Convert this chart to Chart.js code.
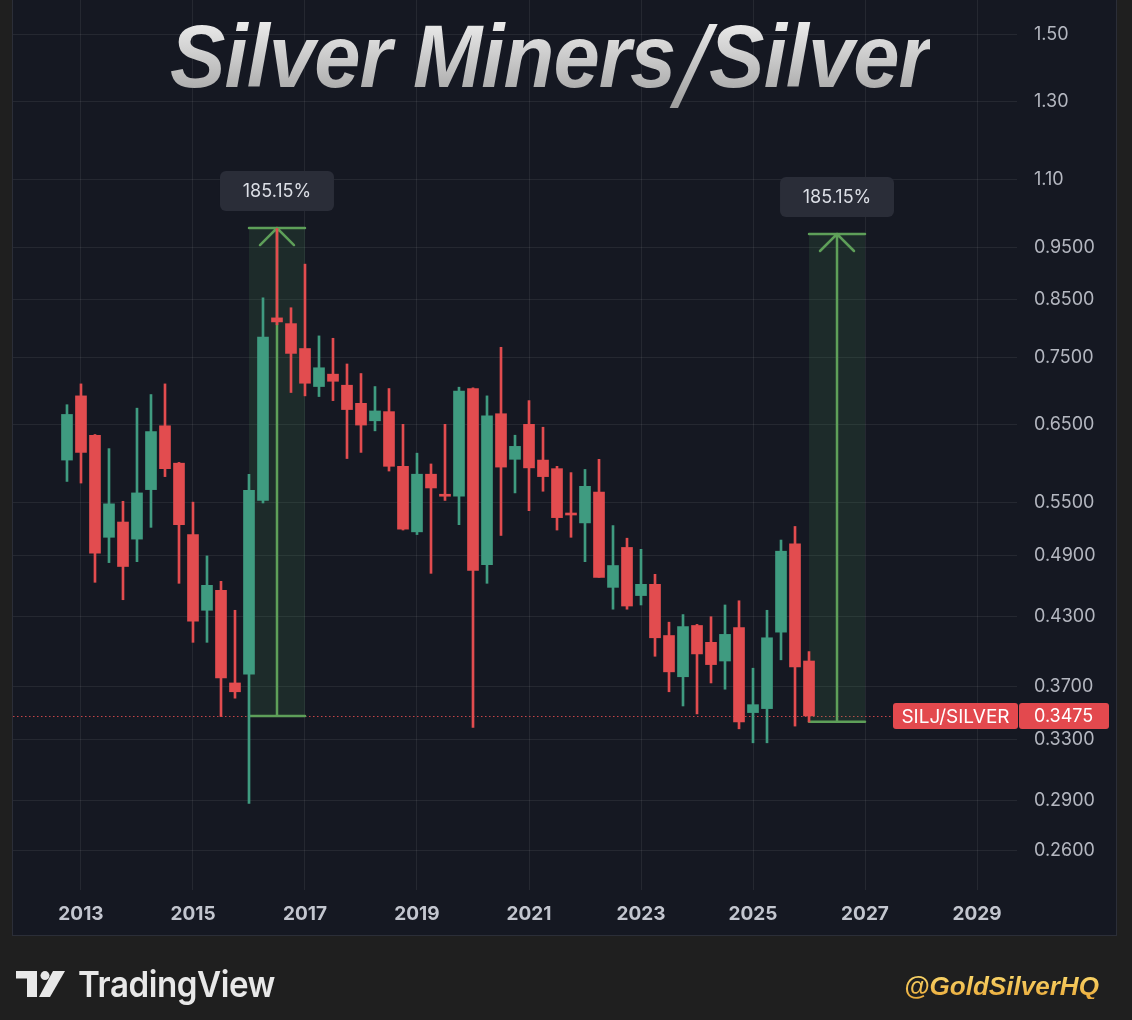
<!DOCTYPE html>
<html lang="en">
<head>
<meta charset="UTF-8">
<title>Silver Miners/Silver</title>
<script src="https://cdn.jsdelivr.net/npm/chart.js@4.4.1/dist/chart.umd.min.js"></script>
<style>
    html, body { margin: 0; padding: 0; background: #1f1f1f; }
    body { width: 1132px; height: 1020px; position: relative; overflow: hidden; font-family: Inter, Roboto, sans-serif; }
    #panel {
        position: absolute; left: 12px; top: -1px; width: 1105px; height: 937px;
        box-sizing: border-box; border: 1px solid #2b2e38; background: #151822;
    }
    #chart-wrap { position: absolute; left: 0; top: 0; width: 1103px; height: 935px; }
    #title {
        position: absolute; left: 170px; top: 12px; white-space: nowrap;
        font-family: "Liberation Sans Narrow", "Liberation Sans", Arial, sans-serif;
        font-weight: 700; font-style: italic; font-size: 89px; line-height: 89px;
        letter-spacing: -1px;
        background: linear-gradient(180deg, #f4f4f4 0%, #9c9c9c 100%);
        -webkit-background-clip: text; background-clip: text; color: transparent;
        transform-origin: 0 0;
    }
    #title .slash {
        font-family: "DejaVu Sans", sans-serif; font-weight: 200; font-style: italic;
        font-size: 104px; vertical-align: -12px; margin: 0 1px;
    }
    #tv-logo { position: absolute; left: 16px; top: 971px; }
    #tv-text {
        position: absolute; left: 78px; top: 966px; white-space: nowrap;
        font-family: Inter, Roboto, sans-serif; font-weight: 600; font-size: 36px; line-height: 36px;
        color: #e8e8e8; letter-spacing: -0.5px; transform-origin: 0 0;
    }
    #handle {
        position: absolute; left: 904px; top: 974px; white-space: nowrap;
        font-family: "Liberation Sans", Arial, sans-serif; font-weight: 700; font-style: italic;
        font-size: 25px; line-height: 25px;
        background: linear-gradient(180deg, #fbd96c 0%, #e9a93a 100%);
        -webkit-background-clip: text; background-clip: text; color: transparent;
        transform-origin: 0 0;
    }
</style>
</head>
<body>
    <div id="panel">
        <div id="chart-wrap"><canvas id="chart" width="1103" height="935"></canvas></div>
    </div>
    <div id="title">Silver Miners<span class="slash">/</span>Silver</div>

    <svg id="tv-logo" width="50" height="26" viewBox="0 0 50 26">
        <polygon points="0,0 21,0 21,26 11,26 11,7.5 0,7.5" fill="#e8e8e8"/>
        <circle cx="29" cy="4.6" r="4.5" fill="#e8e8e8"/>
        <polygon points="37,0 49,0 34,26 23,26" fill="#e8e8e8"/>
    </svg>
    <div id="tv-text">TradingView</div>
    <div id="handle">@GoldSilverHQ</div>

    <script>
        // quarterly candles, SILJ/SILVER
        const quarters = [
            '2012 Q4',
            '2013 Q1', '2013 Q2', '2013 Q3', '2013 Q4',
            '2014 Q1', '2014 Q2', '2014 Q3', '2014 Q4',
            '2015 Q1', '2015 Q2', '2015 Q3', '2015 Q4',
            '2016 Q1', '2016 Q2', '2016 Q3', '2016 Q4',
            '2017 Q1', '2017 Q2', '2017 Q3', '2017 Q4',
            '2018 Q1', '2018 Q2', '2018 Q3', '2018 Q4',
            '2019 Q1', '2019 Q2', '2019 Q3', '2019 Q4',
            '2020 Q1', '2020 Q2', '2020 Q3', '2020 Q4',
            '2021 Q1', '2021 Q2', '2021 Q3', '2021 Q4',
            '2022 Q1', '2022 Q2', '2022 Q3', '2022 Q4',
            '2023 Q1', '2023 Q2', '2023 Q3', '2023 Q4',
            '2024 Q1', '2024 Q2', '2024 Q3', '2024 Q4',
            '2025 Q1', '2025 Q2', '2025 Q3', '2025 Q4',
            '2026 Q1'
        ];
        const opens = [
            0.602,
            0.691, 0.635, 0.510, 0.527,
            0.508, 0.565, 0.648, 0.598,
            0.513, 0.436, 0.455, 0.373,
            0.380, 0.552, 0.817, 0.807,
            0.765, 0.705, 0.724, 0.707,
            0.680, 0.655, 0.668, 0.594,
            0.516, 0.584, 0.559, 0.557,
            0.702, 0.481, 0.665, 0.603,
            0.650, 0.602, 0.591, 0.537,
            0.526, 0.562, 0.458, 0.499,
            0.450, 0.461, 0.413, 0.378,
            0.422, 0.407, 0.391, 0.420,
            0.350, 0.353, 0.416, 0.503,
            0.391
        ];
        const highs = [
            0.678,
            0.709, 0.636, 0.617, 0.551,
            0.673, 0.693, 0.709, 0.599,
            0.550, 0.490, 0.464, 0.436,
            0.584, 0.853, 0.990, 0.835,
            0.917, 0.786, 0.782, 0.740,
            0.725, 0.705, 0.702, 0.650,
            0.611, 0.597, 0.650, 0.704,
            0.703, 0.691, 0.767, 0.635,
            0.684, 0.646, 0.594, 0.586,
            0.590, 0.603, 0.523, 0.509,
            0.497, 0.471, 0.425, 0.432,
            0.423, 0.430, 0.441, 0.445,
            0.385, 0.436, 0.507, 0.522,
            0.399
        ];
        const lows = [
            0.575,
            0.573, 0.463, 0.483, 0.446,
            0.484, 0.521, 0.581, 0.462,
            0.407, 0.407, 0.347, 0.361,
            0.288, 0.549, 0.805, 0.696,
            0.691, 0.690, 0.684, 0.604,
            0.612, 0.641, 0.588, 0.518,
            0.513, 0.472, 0.552, 0.524,
            0.339, 0.462, 0.512, 0.561,
            0.540, 0.563, 0.518, 0.510,
            0.484, 0.468, 0.437, 0.437,
            0.441, 0.395, 0.366, 0.355,
            0.349, 0.373, 0.368, 0.338,
            0.328, 0.328, 0.392, 0.340,
            0.343
        ];
        const closes = [
            0.664,
            0.612, 0.493, 0.548, 0.479,
            0.561, 0.640, 0.591, 0.524,
            0.426, 0.460, 0.377, 0.366,
            0.564, 0.784, 0.810, 0.757,
            0.710, 0.734, 0.713, 0.671,
            0.649, 0.669, 0.594, 0.519,
            0.584, 0.567, 0.557, 0.698,
            0.475, 0.662, 0.593, 0.620,
            0.592, 0.581, 0.532, 0.535,
            0.569, 0.468, 0.480, 0.440,
            0.461, 0.411, 0.382, 0.421,
            0.397, 0.388, 0.414, 0.343,
            0.356, 0.411, 0.495, 0.386,
            0.3475
        ];

        // axis ticks
        const yearTicks = [2013, 2015, 2017, 2019, 2021, 2023, 2025, 2027, 2029];
        const priceTicks = [1.5, 1.3, 1.1, 0.95, 0.85, 0.75, 0.65, 0.55, 0.49, 0.43, 0.37, 0.33, 0.29, 0.26];

        // price-range measurements
        const measureFrom = [2016.0, 2026.0];
        const measureTo = [2017.0, 2027.0];
        const measureLow = [0.3475, 0.3431];
        const measureHigh = [0.9909, 0.9783];
        const measureText = ['185.15%', '185.15%'];

        const symbolName = 'SILJ/SILVER';
        const lastPrice = 0.3475;

        const UP = '#3f9b80';
        const DOWN = '#e24c4f';

        function quarterToX(q) {
            const parts = q.split(' Q');
            return Number(parts[0]) + (Number(parts[1]) - 1) / 4;
        }

        const candleColors = quarters.map((q, i) => closes[i] >= opens[i] ? UP : DOWN);
        const bodies = quarters.map((q, i) => ({ x: quarterToX(q), y: [opens[i], closes[i]] }));
        const wicks = quarters.map((q, i) => ({ x: quarterToX(q), y: [lows[i], highs[i]] }));

        function roundRect(ctx, x, y, w, h, r) {
            ctx.beginPath();
            ctx.moveTo(x + r, y);
            ctx.arcTo(x + w, y, x + w, y + h, r);
            ctx.arcTo(x + w, y + h, x, y + h, r);
            ctx.arcTo(x, y + h, x, y, r);
            ctx.arcTo(x, y, x + w, y, r);
            ctx.closePath();
            ctx.fill();
        }

        const overlays = {
            id: 'overlays',
            beforeDatasetsDraw(chart) {
                const { ctx, chartArea, scales: { x, y } } = chart;
                ctx.save();
                // last price dotted line
                const py = Math.round(y.getPixelForValue(lastPrice)) + 0.5;
                ctx.strokeStyle = 'rgba(226,76,79,0.85)';
                ctx.lineWidth = 1;
                ctx.setLineDash([1.5, 2.5]);
                ctx.beginPath();
                ctx.moveTo(chartArea.left, py);
                ctx.lineTo(chartArea.right, py);
                ctx.stroke();
                ctx.setLineDash([]);

                // measure boxes + arrows
                measureFrom.forEach((from, i) => {
                    const x0 = x.getPixelForValue(from);
                    const x1 = x.getPixelForValue(measureTo[i]);
                    const yTop = y.getPixelForValue(measureHigh[i]);
                    const yBot = y.getPixelForValue(measureLow[i]);
                    const xm = (x0 + x1) / 2;
                    ctx.fillStyle = 'rgba(80,165,90,0.14)';
                    ctx.fillRect(x0, yTop, x1 - x0, yBot - yTop);
                    ctx.strokeStyle = '#5e9f59';
                    ctx.lineWidth = 2.5;
                    ctx.lineCap = 'round';
                    ctx.beginPath();
                    ctx.moveTo(x0, yTop); ctx.lineTo(x1, yTop);
                    ctx.moveTo(x0, yBot); ctx.lineTo(x1, yBot);
                    ctx.moveTo(xm, yBot); ctx.lineTo(xm, yTop);
                    ctx.moveTo(xm - 17, yTop + 17); ctx.lineTo(xm, yTop); ctx.lineTo(xm + 17, yTop + 17);
                    ctx.stroke();
                });
                ctx.restore();
            },
            afterDraw(chart) {
                const { ctx, chartArea, scales: { x, y } } = chart;
                ctx.save();
                // percentage labels
                ctx.font = '18px Inter, Roboto, sans-serif';
                ctx.textAlign = 'center';
                ctx.textBaseline = 'middle';
                measureFrom.forEach((from, i) => {
                    const xm = x.getPixelForValue((from + measureTo[i]) / 2);
                    const yTop = y.getPixelForValue(measureHigh[i]);
                    const w = 114, h = 40;
                    const by = yTop - 17 - h;
                    ctx.fillStyle = '#2a2d38';
                    roundRect(ctx, xm - w / 2, by, w, h, 6);
                    ctx.fillStyle = '#dcdfe6';
                    ctx.fillText(measureText[i], xm, by + h / 2 + 1);
                });

                // last price labels
                const py = y.getPixelForValue(lastPrice);
                ctx.fillStyle = '#e3494e';
                roundRect(ctx, chartArea.right - 124, py - 13, 125, 26, 3);
                roundRect(ctx, chartArea.right + 2, py - 13, 90, 26, 3);
                ctx.fillStyle = '#ffffff';
                ctx.font = '19px Inter, Roboto, sans-serif';
                ctx.textAlign = 'center';
                ctx.fillText(symbolName, chartArea.right - 61.5, py + 1);
                ctx.font = '18px Inter, Roboto, sans-serif';
                ctx.textAlign = 'left';
                ctx.fillText(lastPrice.toFixed(4), chartArea.right + 17, py + 1);
                ctx.restore();
            }
        };

        const gridColor = 'rgba(255,255,255,0.07)';

        new Chart(document.getElementById('chart'), {
            type: 'bar',
            data: {
                datasets: [
                    {
                        label: 'body',
                        data: bodies,
                        backgroundColor: candleColors,
                        barThickness: 11,
                        minBarLength: 2,
                        borderWidth: 0,
                        borderSkipped: false,
                        grouped: false,
                        order: 1
                    },
                    {
                        label: 'wick',
                        data: wicks,
                        backgroundColor: candleColors,
                        barThickness: 2,
                        borderWidth: 0,
                        borderSkipped: false,
                        grouped: false,
                        order: 2
                    }
                ]
            },
            options: {
                responsive: false,
                animation: false,
                events: [],
                layout: { padding: 0 },
                plugins: {
                    legend: { display: false },
                    tooltip: { enabled: false }
                },
                scales: {
                    x: {
                        type: 'linear',
                        bounds: 'data',
                        offset: false,
                        min: 2011.786,
                        max: 2029.714,
                        grid: { color: gridColor, offset: false, drawTicks: false },
                        border: { display: false },
                        afterBuildTicks: (scale) => { scale.ticks = yearTicks.map(v => ({ value: v })); },
                        afterFit: (scale) => { scale.height = 45; scale.paddingLeft = 0; scale.paddingRight = 0; },
                        ticks: {
                            autoSkip: false,
                            maxRotation: 0,
                            padding: 13,
                            color: '#c3c6cf',
                            font: { family: 'Inter, Roboto, sans-serif', size: 19, weight: 'bold' },
                            callback: (v) => String(v)
                        }
                    },
                    y: {
                        type: 'logarithmic',
                        position: 'right',
                        bounds: 'data',
                        beginAtZero: false,
                        min: 0.2391,
                        max: 1.6171,
                        grid: { color: gridColor, drawTicks: false },
                        border: { display: false },
                        afterBuildTicks: (scale) => { scale.ticks = priceTicks.map(v => ({ value: v })); },
                        afterFit: (scale) => { scale.width = 99; scale.paddingTop = 0; scale.paddingBottom = 0; },
                        ticks: {
                            autoSkip: false,
                            padding: 17,
                            crossAlign: 'near',
                            color: '#b4b7c0',
                            font: { family: 'Inter, Roboto, sans-serif', size: 18 },
                            callback: (v) => v >= 1 ? Number(v).toFixed(2) : Number(v).toFixed(4)
                        }
                    }
                }
            },
            plugins: [overlays]
        });

        // squeeze the title texts to their widths in the picture
        function fitWidth(id, target) {
            const el = document.getElementById(id);
            const w = el.getBoundingClientRect().width;
            if (w > 0) el.style.transform = 'scaleX(' + (target / w) + ')';
        }
        fitWidth('title', 760);
        fitWidth('tv-text', 197);
        fitWidth('handle', 195);
    </script>
</body>
</html>
